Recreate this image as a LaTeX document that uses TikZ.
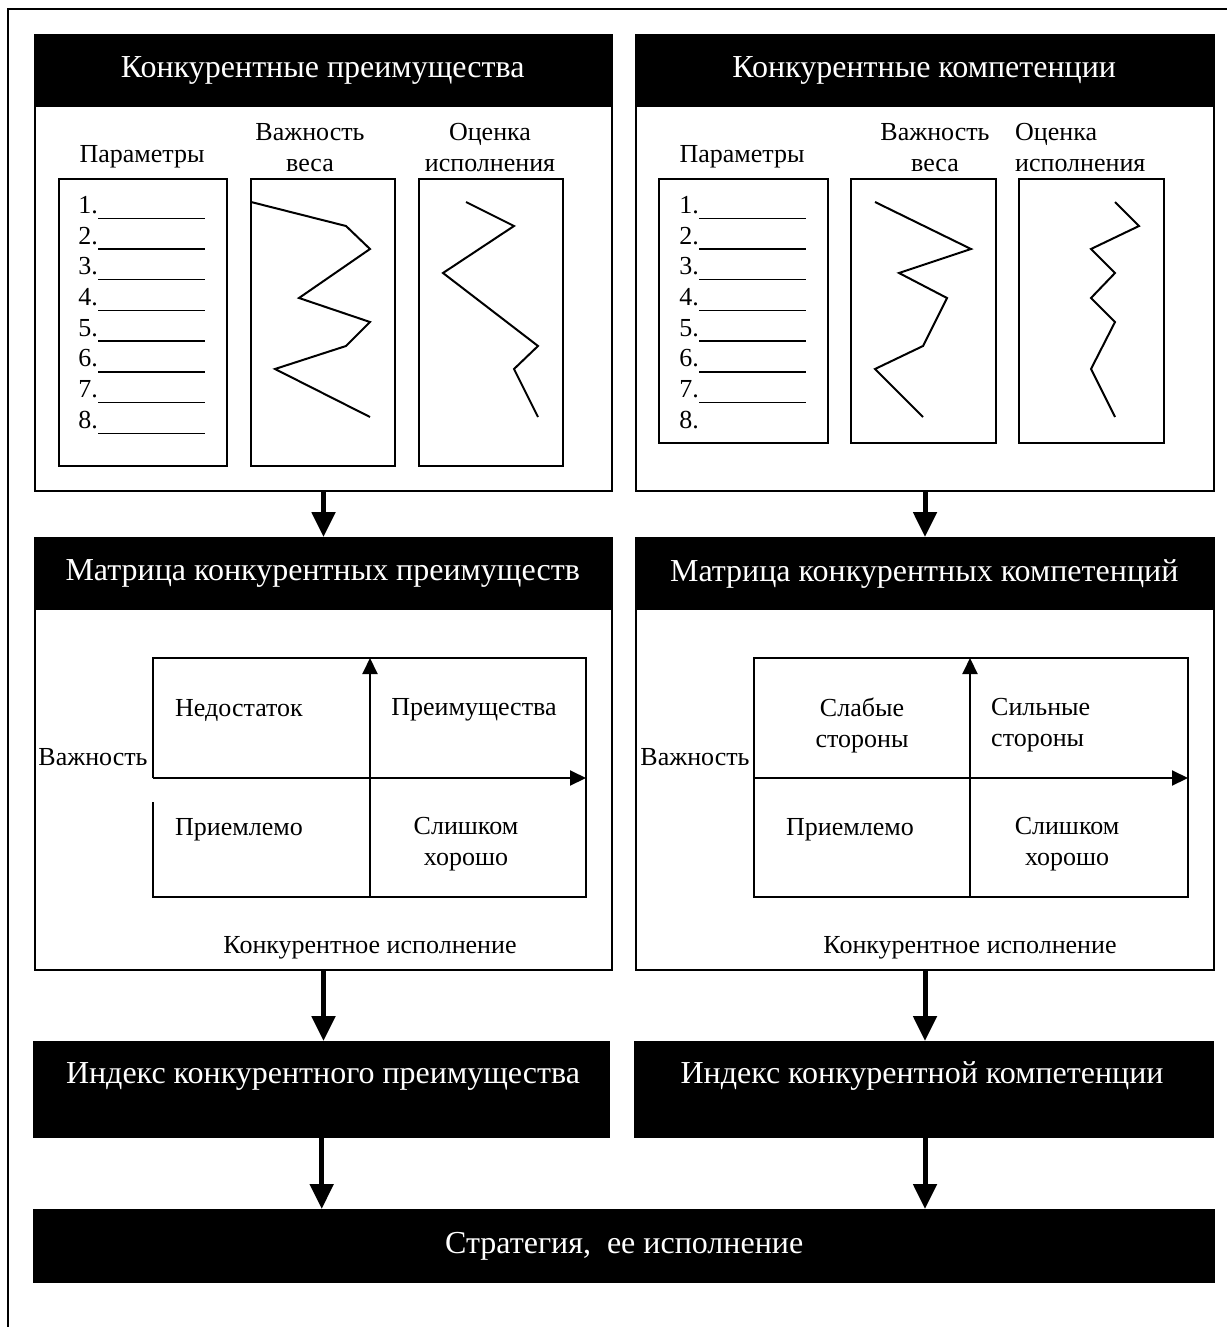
\documentclass[tikz,border=0pt]{standalone}
\usepackage{fontspec}
\setmainfont{Liberation Serif}
\usetikzlibrary{arrows.meta}

\tikzset{
  panel/.style={draw, line width=2pt, anchor=north west, inner sep=0pt},
  headbar/.style={fill=black, text=white, anchor=north west, inner sep=0pt, font=\fontsize{32}{38}\selectfont},
  lbl/.style={font=\fontsize{26}{31}\selectfont, inner sep=0pt, align=center},
  curve/.style={line width=2pt, line join=miter},
  flow/.style={line width=5pt, -{Triangle[width=23pt,length=25pt]}},
  axis/.style={line width=2pt, -{Triangle[width=15pt,length=16pt]}},
}

\begin{document}
\begin{tikzpicture}[x=1pt,y=-1pt]
       \useasboundingbox (0,0) rectangle (1227,1327);
       \draw[line width=1.5pt] (8,1327) -- (8,9) -- (1227,9);

       \node[panel, minimum width=577pt, minimum height=456pt] (advBox) at (34,34) {};
       \node[headbar, minimum width=577pt, minimum height=73pt] (advHead) at (34,34) {Конкурентные преимущества};
       \node[panel, minimum width=578pt, minimum height=456pt] (cmpBox) at (635,34) {};
       \node[headbar, minimum width=578pt, minimum height=73pt] (cmpHead) at (635,34) {Конкурентные компетенции};

       \node[lbl] (advParT) at (142,157) {Параметры};
       \node[lbl] (advWT) at (310,148) {Важность\\веса};
       \node[lbl] (advPerfT) at (490,148) {Оценка\\исполнения};
       \node[panel, minimum width=168pt, minimum height=287pt] (advPar) at (58,178) {};
       \node[panel, minimum width=144pt, minimum height=287pt] (advW) at (250,178) {};
       \node[panel, minimum width=144pt, minimum height=287pt] (advPerf) at (418,178) {};

       \foreach \i in {1,...,8}{
         \node[lbl, anchor=east] (pa\i) at (98,{205+(\i-1)*30.7}) {\i.};
         \draw[line width=1.3pt] ([yshift=-5pt]pa\i.base east) -- ++(107,0);
       }

       \draw[curve] (251,202) -- (346,226) -- (370,249) -- (299,298) -- (370,322) -- (346,346) -- (275,369) -- (370,417);
       \draw[curve] (466,202) -- (514,226) -- (443,273) -- (538,346) -- (514,369) -- (538,417);

       \node[lbl] (cmpParT) at (742,157) {Параметры};
       \node[lbl] (cmpWT) at (935,148) {Важность\\веса};
       \node[lbl, align=left, anchor=west] (cmpPerfT) at (1015,148) {Оценка\\исполнения};
       \node[panel, minimum width=169pt, minimum height=264pt] (cmpPar) at (658,178) {};
       \node[panel, minimum width=145pt, minimum height=264pt] (cmpW) at (850,178) {};
       \node[panel, minimum width=145pt, minimum height=264pt] (cmpPerf) at (1018,178) {};

       \foreach \i in {1,...,8}
         \node[lbl, anchor=east] (pc\i) at (699,{205+(\i-1)*30.7}) {\i.};
       \foreach \i in {1,...,7}
         \draw[line width=1.3pt] ([yshift=-5pt]pc\i.base east) -- ++(107,0);

       \draw[curve] (875,202) -- (971,249) -- (899,273) -- (947,298) -- (923,346) -- (875,369) -- (923,417);
       \draw[curve] (1115,202) -- (1139,226) -- (1091,249) -- (1115,273) -- (1091,298) -- (1115,322) -- (1091,369) -- (1115,417);

       \node[panel, minimum width=577pt, minimum height=432pt] (advMat) at (34,537) {};
       \node[headbar, minimum width=577pt, minimum height=73pt] (advMatHead) at (34,537) {Матрица конкурентных преимуществ};
       \node[panel, minimum width=578pt, minimum height=432pt] (cmpMat) at (635,537) {};
       \node[headbar, minimum width=578pt, minimum height=73pt] (cmpMatHead) at (635,537) {Матрица конкурентных компетенций};

       \draw[flow] (advBox.south) -- (advMat.north);
       \draw[flow] (cmpBox.south) -- (cmpMat.north);

       \draw[line width=2pt] (153,778) -- (153,658) -- (586,658) -- (586,897) -- (153,897) -- (153,802);
       \draw[axis] (153,778) -- (586,778);
       \draw[axis] (370,897) -- (370,658);
       \node[lbl] (advQ1) at (239,710) {Недостаток};
       \node[lbl] (advQ2) at (474,710) {Преимущества};
       \node[lbl] (advQ3) at (239,830) {Приемлемо};
       \node[lbl] (advQ4) at (466,844) {Слишком\\хорошо};
       \node[lbl] (advImp) at (93,757) {Важность};
       \node[lbl] (advExe) at (370,948) {Конкурентное исполнение};

       \draw[line width=2pt] (754,658) rectangle (1188,897);
       \draw[axis] (754,778) -- (1188,778);
       \draw[axis] (970,897) -- (970,658);
       \node[lbl] (cmpQ1) at (862,725) {Слабые\\стороны};
       \node[lbl, align=left, anchor=west] (cmpQ2) at (991,725) {Сильные\\стороны};
       \node[lbl] (cmpQ3) at (850,830) {Приемлемо};
       \node[lbl] (cmpQ4) at (1067,844) {Слишком\\хорошо};
       \node[lbl] (cmpImp) at (695,757) {Важность};
       \node[lbl] (cmpExe) at (970,948) {Конкурентное исполнение};

       \node[headbar, minimum width=577pt, minimum height=97pt] (advIdx) at (33,1041) {};
       \node[headbar, anchor=center] (advIdxT) at (323,1076) {Индекс конкурентного преимущества};
       \node[headbar, minimum width=580pt, minimum height=97pt] (cmpIdx) at (634,1041) {};
       \node[headbar, anchor=center] (cmpIdxT) at (922,1076) {Индекс конкурентной компетенции};

       \draw[flow] (advMat.south) -- (advMat.south |- advIdx.north);
       \draw[flow] (cmpMat.south) -- (cmpMat.south |- cmpIdx.north);

       \node[headbar, minimum width=1182pt, minimum height=74pt] (strat) at (33,1209) {Стратегия,~ ее исполнение};

       \draw[flow] (advIdx.south) -- (advIdx.south |- strat.north);
       \draw[flow] (advIdx.south -| cmpMat.south) -- (cmpMat.south |- strat.north);
      \end{tikzpicture}
\end{document}
